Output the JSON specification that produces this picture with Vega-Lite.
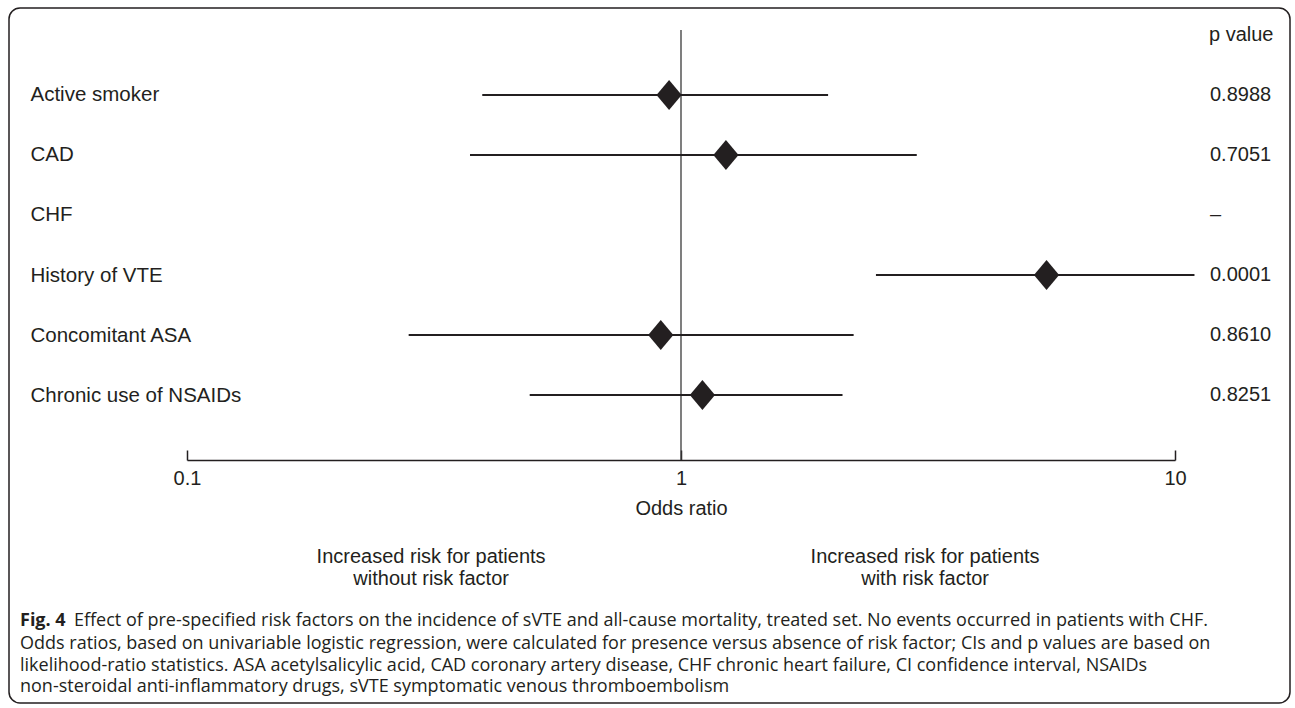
{
  "$schema": "https://vega.github.io/schema/vega-lite/v6.json",
  "width": 988,
  "height": 430,
  "autosize": {"type": "none"},
  "padding": {"left": 187, "top": 30, "right": 120, "bottom": 248},
  "background": "white",
  "config": {
    "view": {"stroke": null},
    "font": "Liberation Sans",
    "text": {"font": "Liberation Sans", "fontSize": 20, "color": "#231f20"}
  },
  "data": {
    "values": [
      {"factor": "Active smoker", "or": 0.946, "lo": 0.396, "hi": 1.985, "p": "0.8988"},
      {"factor": "CAD", "or": 1.233, "lo": 0.374, "hi": 3.001, "p": "0.7051"},
      {"factor": "CHF", "or": null, "lo": null, "hi": null, "p": "–"},
      {"factor": "History of VTE", "or": 5.495, "lo": 2.481, "hi": 10.95, "p": "0.0001"},
      {"factor": "Concomitant ASA", "or": 0.91, "lo": 0.281, "hi": 2.236, "p": "0.8610"},
      {"factor": "Chronic use of NSAIDs", "or": 1.105, "lo": 0.494, "hi": 2.123, "p": "0.8251"}
    ]
  },
  "layer": [
    {
      "data": {"values": [{}]},
      "mark": {"type": "rect", "fill": null, "stroke": "#231f20", "strokeWidth": 1.5, "cornerRadius": 11, "xOffset": -178, "x2Offset": 115, "yOffset": -22, "y2Offset": 243},
      "encoding": {
        "x": {"value": 0},
        "x2": {"value": "width"},
        "y": {"value": 0},
        "y2": {"value": "height"}
      }
    },
    {
      "data": {"values": [{}]},
      "mark": {"type": "rule", "color": "#3a3a3a", "strokeWidth": 1.3},
      "encoding": {
        "x": {"datum": 1, "type": "quantitative"}
      }
    },
    {
      "transform": [{"filter": "datum.or != null"}],
      "mark": {"type": "rule", "color": "#231f20", "strokeWidth": 2.2},
      "encoding": {
        "x": {
          "field": "lo", "type": "quantitative",
          "scale": {"type": "log", "domain": [0.1, 10], "nice": false},
          "axis": {
            "values": [0.1, 1, 10],
            "format": "~g",
            "title": "Odds ratio",
            "grid": false,
            "domainColor": "#231f20",
            "domainWidth": 1.5,
            "tickColor": "#231f20",
            "tickWidth": 1.5,
            "tickSize": -10,
            "labelPadding": 18,
            "labelFont": "Liberation Sans",
            "labelFontSize": 20,
            "labelColor": "#231f20",
            "labelFlush": false,
            "labelOverlap": false,
            "titleFont": "Liberation Sans",
            "titleFontSize": 20,
            "titleFontWeight": "normal",
            "titleColor": "#231f20",
            "titlePadding": 10
          }
        },
        "x2": {"field": "hi"},
        "y": {
          "field": "factor", "type": "nominal",
          "scale": {
            "type": "point",
            "domain": ["p value", "Active smoker", "CAD", "CHF", "History of VTE", "Concomitant ASA", "Chronic use of NSAIDs"],
            "padding": 0.5833,
            "align": 0.0714
          },
          "axis": {
            "title": null,
            "domain": false,
            "ticks": false,
            "tickSize": 0,
            "labelAlign": "left",
            "labelBaseline": "middle",
            "labelPadding": 157,
            "labelLimit": 400,
            "labelFont": "Liberation Sans",
            "labelFontSize": 20.5,
            "labelColor": "#231f20",
            "labelExpr": "datum.label == 'p value' ? '' : datum.label"
          }
        }
      }
    },
    {
      "transform": [{"filter": "datum.or != null"}],
      "mark": {"type": "point", "shape": "M-0.84,0L0,-1L0.84,0L0,1Z", "filled": true, "opacity": 1, "size": 900, "color": "#231f20"},
      "encoding": {
        "x": {"field": "or", "type": "quantitative"},
        "y": {"field": "factor", "type": "nominal"}
      }
    },
    {
      "mark": {"type": "text", "align": "left", "baseline": "middle", "dx": 35},
      "encoding": {
        "x": {"datum": 10, "type": "quantitative"},
        "y": {"field": "factor", "type": "nominal"},
        "text": {"field": "p"}
      }
    },
    {
      "data": {"values": [{"h": "p value"}]},
      "mark": {"type": "text", "align": "left", "baseline": "middle", "dx": 34},
      "encoding": {
        "x": {"datum": 10, "type": "quantitative"},
        "y": {"field": "h", "type": "nominal"},
        "text": {"field": "h"}
      }
    },
    {
      "data": {"values": [
        {"pos": 0.312, "label": ["Increased risk for patients", "without risk factor"]},
        {"pos": 3.12, "label": ["Increased risk for patients", "with risk factor"]}
      ]},
      "mark": {"type": "text", "align": "center", "baseline": "middle", "lineHeight": 22, "dy": 97},
      "encoding": {
        "x": {"field": "pos", "type": "quantitative"},
        "y": {"value": "height"},
        "text": {"field": "label"}
      }
    },
    {
      "data": {"values": [{"t": "Fig. 4"}]},
      "mark": {"type": "text", "align": "left", "baseline": "middle", "font": "Open Sans", "fontSize": 18, "fontWeight": "bold", "dx": -167, "dy": 161},
      "encoding": {
        "x": {"value": 0},
        "y": {"value": "height"},
        "text": {"field": "t"}
      }
    },
    {
      "data": {"values": [{"t": "Effect of pre-specified risk factors on the incidence of sVTE and all-cause mortality, treated set. No events occurred in patients with CHF."}]},
      "mark": {"type": "text", "align": "left", "baseline": "middle", "font": "Open Sans", "fontSize": 18, "dx": -113, "dy": 161},
      "encoding": {
        "x": {"value": 0},
        "y": {"value": "height"},
        "text": {"field": "t"}
      }
    },
    {
      "data": {"values": [{"t": [
        "Odds ratios, based on univariable logistic regression, were calculated for presence versus absence of risk factor; CIs and p values are based on",
        "likelihood-ratio statistics. ASA acetylsalicylic acid, CAD coronary artery disease, CHF chronic heart failure, CI confidence interval, NSAIDs",
        "non-steroidal anti-inflammatory drugs, sVTE symptomatic venous thromboembolism"
      ]}]},
      "mark": {"type": "text", "align": "left", "baseline": "top", "font": "Open Sans", "fontSize": 18, "lineHeight": 21.5, "dx": -167, "dy": 175},
      "encoding": {
        "x": {"value": 0},
        "y": {"value": "height"},
        "text": {"field": "t"}
      }
    }
  ]
}
